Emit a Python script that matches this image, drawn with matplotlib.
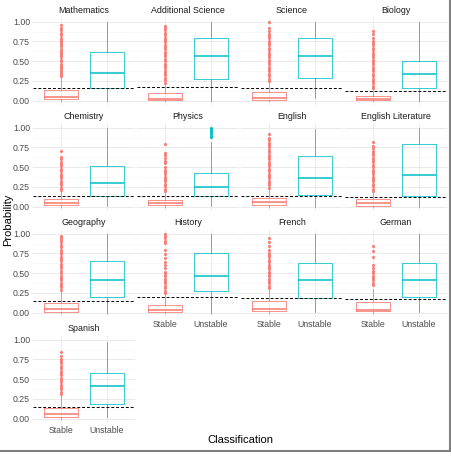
import numpy as np
import matplotlib
matplotlib.use("Agg")
import matplotlib.pyplot as plt
from matplotlib.lines import Line2D

plt.rcParams["font.family"] = ["Liberation Sans", "DejaVu Sans"]

# ---------------------------------------------------------------------------
# Data
# ---------------------------------------------------------------------------

subjects = ["Mathematics", "Additional Science", "Science", "Biology",
            "Chemistry", "Physics", "English", "English Literature",
            "Geography", "History", "French", "German", "Spanish"]
categories = ["Stable", "Unstable"]
thresholds = [0.16, 0.17, 0.165, 0.122, 0.13, 0.13, 0.13, 0.125,
              0.148, 0.195, 0.18, 0.17, 0.15]

# Stable group box stats
stable_lo  = [0.00, 0.00, 0.00, 0.00, 0.00, 0.00, 0.00, 0.00, 0.00, 0.00, 0.00, 0.00, 0.00]
stable_q1  = [0.02, 0.01, 0.01, 0.01, 0.02, 0.025, 0.02, 0.01, 0.01, 0.01, 0.02, 0.02, 0.025]
stable_med = [0.05, 0.025, 0.03, 0.025, 0.046, 0.05, 0.054, 0.046, 0.045, 0.04, 0.05, 0.04, 0.063]
stable_q3  = [0.13, 0.095, 0.105, 0.063, 0.096, 0.09, 0.11, 0.096, 0.12, 0.097, 0.15, 0.13, 0.134]
stable_hi  = [0.30, 0.22, 0.24, 0.15, 0.20, 0.19, 0.23, 0.19, 0.28, 0.23, 0.30, 0.30, 0.30]

# Unstable group box stats
unstable_lo  = [0.00, 0.00, 0.03, 0.00, 0.01, 0.01, 0.00, 0.00, 0.00, 0.00, 0.01, 0.01, 0.02]
unstable_q1  = [0.165, 0.27, 0.29, 0.156, 0.13, 0.13, 0.15, 0.14, 0.195, 0.27, 0.18, 0.20, 0.19]
unstable_med = [0.355, 0.565, 0.56, 0.333, 0.30, 0.254, 0.36, 0.395, 0.41, 0.465, 0.41, 0.42, 0.41]
unstable_q3  = [0.62, 0.79, 0.80, 0.505, 0.51, 0.43, 0.645, 0.80, 0.66, 0.76, 0.635, 0.635, 0.58]
unstable_hi  = [1.00, 1.00, 0.99, 0.99, 0.99, 0.82, 0.98, 1.00, 1.00, 1.00, 1.00, 0.99, 0.965]

# Outliers (approximate)
stable_fliers = [
    [0.31, 0.34, 0.36, 0.39, 0.42, 0.44, 0.47, 0.50, 0.52, 0.55, 0.58, 0.61, 0.63, 0.66,
     0.69, 0.72, 0.74, 0.77, 0.80, 0.83, 0.86, 0.89, 0.92, 0.96],
    [0.23, 0.26, 0.29, 0.32, 0.35, 0.38, 0.41, 0.44, 0.47, 0.50, 0.53, 0.56, 0.59, 0.62,
     0.65, 0.68, 0.71, 0.74, 0.77, 0.80, 0.83, 0.86, 0.89, 0.92, 0.95],
    [0.25, 0.28, 0.31, 0.34, 0.37, 0.40, 0.43, 0.46, 0.49, 0.52, 0.55, 0.58, 0.61, 0.64,
     0.67, 0.70, 0.73, 0.76, 0.79, 0.82, 0.85, 0.88, 0.92, 0.99],
    [0.16, 0.19, 0.22, 0.25, 0.28, 0.31, 0.34, 0.37, 0.40, 0.43, 0.46, 0.49, 0.52, 0.55,
     0.58, 0.61, 0.64, 0.67, 0.70, 0.73, 0.76, 0.80, 0.84, 0.88],
    [0.21, 0.24, 0.27, 0.30, 0.33, 0.36, 0.39, 0.42, 0.45, 0.48, 0.51, 0.54, 0.57, 0.60,
     0.63, 0.71],
    [0.20, 0.23, 0.26, 0.29, 0.32, 0.35, 0.38, 0.41, 0.44, 0.47, 0.50, 0.55, 0.58, 0.62,
     0.65, 0.68, 0.79],
    [0.24, 0.27, 0.30, 0.33, 0.36, 0.39, 0.42, 0.45, 0.48, 0.51, 0.54, 0.57, 0.60, 0.63,
     0.66, 0.69, 0.72, 0.75, 0.78, 0.81, 0.84, 0.87, 0.92],
    [0.20, 0.23, 0.26, 0.29, 0.32, 0.35, 0.38, 0.41, 0.44, 0.47, 0.50, 0.53, 0.56, 0.59,
     0.62, 0.65, 0.68, 0.71, 0.74, 0.77, 0.82],
    [0.29, 0.32, 0.35, 0.38, 0.41, 0.44, 0.47, 0.50, 0.53, 0.56, 0.59, 0.62, 0.65, 0.68,
     0.71, 0.74, 0.77, 0.80, 0.83, 0.86, 0.89, 0.92, 0.95, 0.97],
    [0.25, 0.28, 0.31, 0.34, 0.37, 0.40, 0.43, 0.46, 0.49, 0.52, 0.56, 0.60, 0.64, 0.69,
     0.74, 0.79, 0.88, 0.91, 0.94, 0.97, 1.00],
    [0.31, 0.34, 0.37, 0.40, 0.43, 0.46, 0.49, 0.52, 0.55, 0.58, 0.61, 0.64, 0.67, 0.70,
     0.73, 0.76, 0.80, 0.84, 0.89, 0.95],
    [0.35, 0.38, 0.41, 0.44, 0.47, 0.50, 0.53, 0.56, 0.60, 0.70, 0.78, 0.85],
    [0.31, 0.34, 0.37, 0.40, 0.43, 0.46, 0.49, 0.52, 0.55, 0.58, 0.61, 0.64, 0.67, 0.70,
     0.73, 0.76, 0.80, 0.84],
]
unstable_fliers = [[], [], [], [], [], [0.88, 0.90, 0.92, 0.94, 0.96, 0.98, 0.99],
                   [], [], [], [], [], [], []]

# ---------------------------------------------------------------------------
# Layout / style
# ---------------------------------------------------------------------------

W, H = 452, 458
RED, TEAL = "#F8766D", "#00BFC4"
TXT = "#4D4D4D"

fig = plt.figure(figsize=(W / 100, H / 100), dpi=100)

def box_stats(lo, q1, med, q3, hi, fl):
    return dict(whislo=lo, q1=q1, med=med, q3=q3, whishi=hi, fliers=fl)

for i, subj in enumerate(subjects):
    row, col = divmod(i, 4)
    left = 33.4 + 104 * col
    top = 17.75 + 106 * row
    pw, ph = 101.2, 86.9
    ax = fig.add_axes([left / W, 1 - (top + ph) / H, pw / W, ph / H])

    groups = [
        (1, RED, box_stats(stable_lo[i], stable_q1[i], stable_med[i], stable_q3[i],
                           stable_hi[i], stable_fliers[i])),
        (2, TEAL, box_stats(unstable_lo[i], unstable_q1[i], unstable_med[i],
                            unstable_q3[i], unstable_hi[i], unstable_fliers[i])),
    ]
    for pos, c, st in groups:
        ax.bxp([st], positions=[pos], widths=0.75, showcaps=False, manage_ticks=False,
               boxprops=dict(color=c, lw=0.65, alpha=0.85),
               whiskerprops=dict(color=c, lw=0.65, alpha=0.85),
               medianprops=dict(color=c, lw=1.1),
               flierprops=dict(marker="o", markersize=2.3, markerfacecolor=c,
                               markeredgecolor="none", alpha=0.9))

    ax.axhline(thresholds[i], color="black", ls=(0, (3, 2)), lw=0.7, zorder=3)

    ax.set_xlim(0.4, 2.6)
    ax.set_ylim(-0.05, 1.05)
    for s in ax.spines.values():
        s.set_visible(False)
    ax.set_yticks([0, 0.25, 0.5, 0.75, 1.0])
    ax.set_yticks([0.125, 0.375, 0.625, 0.875], minor=True)
    ax.set_xticks([1, 2])
    ax.set_axisbelow(True)
    ax.grid(which="major", color="#EBEBEB", lw=0.7)
    ax.grid(which="minor", axis="y", color="#F3F3F3", lw=0.4)
    ax.tick_params(which="both", length=0, labelsize=6.3, labelcolor=TXT, pad=2.5)

    if col == 0:
        ax.set_yticklabels(["0.00", "0.25", "0.50", "0.75", "1.00"])
    else:
        ax.set_yticklabels([])
    if i >= 9:
        ax.set_xticklabels(categories)
    else:
        ax.set_xticklabels([])

    ax.set_title(subj, fontsize=6.4, pad=3.5, color="#1A1A1A")

fig.text(240 / W, 1 - 440 / H, "Classification", ha="center", va="center", fontsize=8)
fig.text(8 / W, 1 - 220 / H, "Probability", ha="center", va="center",
         rotation=90, fontsize=8)

# frame on the right and bottom edges
fig.add_artist(Line2D([450 / W, 450 / W], [1 - 451 / H, 1], color="#808080",
                      lw=1.5, transform=fig.transFigure))
fig.add_artist(Line2D([0, 451 / W], [1 - 451 / H, 1 - 451 / H], color="#808080",
                      lw=1.5, transform=fig.transFigure))

fig.savefig("out.png", dpi=100)
